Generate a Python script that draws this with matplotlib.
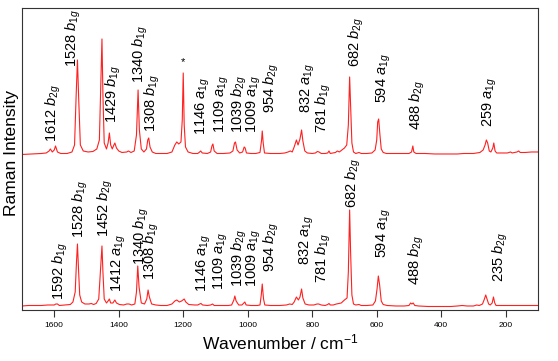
import matplotlib
matplotlib.use("Agg")
import matplotlib.pyplot as plt

plt.rcParams["font.family"] = ["Liberation Sans", "DejaVu Sans"]
plt.rcParams["mathtext.fontset"] = "custom"
plt.rcParams["mathtext.rm"] = "Liberation Sans"
plt.rcParams["mathtext.it"] = "Liberation Sans:italic"

# 上段スペクトル (wavenumber, intensity)
top_trace = [
    (1700, 0.5), (1680, 0.8), (1660, 1), (1640, 1.5), (1625, 2), (1616, 4), (1612, 6),
    (1606, 3), (1600, 5), (1596, 9), (1590, 3), (1580, 1.5), (1560, 1.5), (1545, 3),
    (1537, 10), (1532, 60), (1528, 95), (1524, 55), (1519, 10), (1510, 4), (1495, 3),
    (1480, 3.5), (1468, 6), (1460, 15), (1455, 80), (1452, 116), (1449, 60), (1445, 12),
    (1438, 6), (1433, 12), (1429, 22), (1425, 10), (1420, 6), (1415, 10), (1412, 12),
    (1407, 7), (1400, 4), (1390, 2.5), (1375, 3), (1370, 4), (1362, 2.5), (1352, 4),
    (1345, 20), (1340, 65), (1336, 25), (1330, 6), (1322, 3), (1314, 6), (1310, 15),
    (1307, 17), (1303, 8), (1296, 3), (1285, 1.5), (1270, 1.5), (1250, 1.5), (1235, 3),
    (1226, 10), (1220, 13), (1214, 11), (1207, 13), (1203, 35), (1200, 82), (1197, 30),
    (1193, 8), (1185, 3), (1170, 1.5), (1155, 1.5), (1149, 3), (1146, 4), (1141, 2),
    (1125, 1.5), (1115, 3), (1111, 9), (1108, 11), (1104, 4), (1095, 1.5), (1075, 1.5),
    (1055, 2), (1046, 4), (1041, 12), (1038, 13), (1033, 5), (1025, 2), (1016, 3),
    (1011, 8), (1008, 7), (1004, 2), (990, 1.5), (975, 1.5), (962, 2.5), (957, 15),
    (955, 24), (952, 12), (948, 2), (930, 1.5), (900, 1.5), (885, 2), (875, 3), (868, 4),
    (862, 3), (856, 8), (849, 15), (844, 10), (838, 16), (833, 25), (829, 14), (823, 4),
    (815, 2), (800, 1.5), (790, 2), (784, 3.5), (779, 3), (772, 1.5), (760, 1.5),
    (752, 2), (748, 4), (744, 1.5), (735, 2), (728, 2.5), (722, 4), (716, 3), (708, 5),
    (700, 7), (693, 10), (688, 30), (684, 78), (681, 50), (677, 12), (672, 3), (665, 1.5),
    (655, 2.5), (648, 1.5), (630, 1.5), (615, 2), (605, 5), (600, 15), (597, 33),
    (594, 36), (590, 20), (586, 6), (580, 2.5), (570, 1.5), (550, 1.5), (520, 1.5),
    (500, 1.5), (492, 3), (488, 9), (485, 3), (478, 1.5), (450, 1.5), (420, 1), (400, 1),
    (380, 1), (350, 1), (330, 1.5), (300, 1.5), (280, 2.5), (270, 5), (264, 10),
    (260, 15), (256, 12), (251, 4), (246, 3), (240, 7), (237, 12), (233, 4), (228, 2),
    (210, 2), (195, 2), (185, 3), (180, 2), (165, 3), (160, 4), (155, 2.5), (140, 2.5),
    (120, 3), (100, 3),
]

# 下段スペクトル
bottom_trace = [
    (1700, 1), (1680, 1.5), (1660, 1.5), (1640, 1.5), (1620, 2), (1600, 2), (1595, 3),
    (1590, 3), (1584, 1.5), (1565, 2), (1550, 2.5), (1542, 5), (1535, 15), (1531, 45),
    (1528, 63), (1525, 40), (1521, 12), (1515, 5), (1505, 3), (1492, 3), (1485, 3.5),
    (1478, 2.5), (1470, 3.5), (1462, 8), (1456, 40), (1452, 61), (1449, 35), (1445, 8),
    (1438, 4), (1433, 6), (1429, 8), (1425, 4), (1418, 4), (1412, 7), (1407, 4),
    (1398, 2.5), (1385, 2), (1375, 3), (1368, 3), (1360, 2), (1350, 3), (1345, 15),
    (1341, 41), (1337, 20), (1330, 4), (1320, 3), (1313, 8), (1309, 17), (1305, 10),
    (1298, 3), (1285, 2), (1270, 1.5), (1250, 1.5), (1235, 3), (1226, 6), (1220, 7),
    (1212, 5), (1205, 6), (1197, 8), (1192, 5), (1183, 2.5), (1165, 2), (1155, 2),
    (1149, 3), (1145, 3.5), (1140, 2), (1125, 1.5), (1115, 2), (1109, 3), (1104, 1.5),
    (1085, 1.5), (1060, 1.5), (1050, 2), (1043, 7), (1040, 11), (1036, 6), (1028, 2),
    (1018, 2), (1012, 4), (1009, 5), (1005, 2), (990, 1.5), (970, 1.5), (962, 2),
    (958, 12), (955, 23), (951, 8), (947, 2), (930, 1.5), (900, 1.5), (880, 2), (870, 3),
    (862, 2.5), (856, 5), (849, 10), (843, 7), (838, 10), (833, 18), (829, 9), (822, 3),
    (810, 2), (795, 2), (785, 3), (780, 3), (772, 2), (760, 1.5), (752, 2.5), (748, 3.5),
    (744, 2), (735, 2), (725, 3), (718, 3.5), (710, 4), (700, 7), (692, 9), (688, 35),
    (684, 97), (681, 55), (677, 12), (672, 3), (665, 2), (655, 2.5), (648, 1.5),
    (630, 1.5), (612, 2), (604, 6), (599, 18), (595, 31), (591, 22), (586, 6), (580, 2.5),
    (568, 1.5), (540, 1), (515, 1), (500, 1.5), (495, 4), (491, 3), (487, 4), (482, 1.5),
    (470, 1), (440, 0.5), (400, 0.5), (370, 0.5), (350, 1), (335, 1.5), (320, 1),
    (300, 1), (290, 2), (282, 1.5), (272, 3), (266, 8), (262, 12), (258, 8), (253, 3),
    (248, 2), (242, 4), (238, 10), (234, 4), (230, 1.5), (210, 1.5), (180, 1.5),
    (150, 1.5), (120, 1.5), (100, 1.5),
]

# ピーク帰属ラベル
top_label_nums = ["1612", "1528", "1429", "1340", "1308", "1146", "1109", "1039",
                  "1009", "954", "832", "781", "682", "594", "488", "259"]
top_label_syms = ["b2g", "b1g", "b1g", "b1g", "b1g", "a1g", "a1g", "b2g",
                  "a1g", "b2g", "a1g", "b1g", "b2g", "a1g", "b2g", "a1g"]
bottom_label_nums = ["1592", "1528", "1452", "1412", "1340", "1308", "1146", "1109",
                     "1039", "1009", "954", "832", "781", "682", "594", "488", "235"]
bottom_label_syms = ["b1g", "b1g", "b2g", "a1g", "b1g", "b1g", "a1g", "a1g",
                     "b2g", "a1g", "b2g", "a1g", "b1g", "b2g", "a1g", "b2g", "b2g"]

# ラベル位置 (x: 波数, y: 文字の下端)
top_label_pos = [(1603, 168), (1541, 243), (1418, 187), (1332, 227), (1295, 178),
                 (1139, 175), (1081, 177), (1027, 177), (982, 177), (928, 197),
                 (813, 197), (764, 177), (664, 243), (578, 207), (473, 180), (249, 183)]
bottom_label_pos = [(1581, 10), (1519, 72), (1442, 73), (1399, 18), (1330, 45),
                    (1298, 30), (1136, 18), (1083, 20), (1025, 23), (982, 23),
                    (928, 38), (817, 45), (764, 27), (671, 102), (578, 52), (478, 25),
                    (218, 28)]

TOP_OFFSET = 155
BOTTOM_OFFSET = 3


def label_text(num, sym):
    return num + r" $\mathit{%s}_{\mathit{%s}}$" % (sym[0], sym[1:])


fig = plt.figure(figsize=(5.58, 3.61), dpi=100)
ax = fig.add_axes([0.0394, 0.1413, 0.9247, 0.8366])

top_wn, top_int = zip(*top_trace)
bot_wn, bot_int = zip(*bottom_trace)
ax.plot(top_wn, [v + TOP_OFFSET for v in top_int], color="#ff2020", lw=0.8)
ax.plot(bot_wn, [v + BOTTOM_OFFSET for v in bot_int], color="#ff2020", lw=0.8)

for num, sym, (x, y) in zip(top_label_nums, top_label_syms, top_label_pos):
    ax.text(x, y, label_text(num, sym), rotation=90, ha="center", va="bottom",
            fontsize=10.5)
for num, sym, (x, y) in zip(bottom_label_nums, bottom_label_syms, bottom_label_pos):
    ax.text(x, y, label_text(num, sym), rotation=90, ha="center", va="bottom",
            fontsize=10.5)

# 1200 cm-1 付近の * (溶媒ピーク)
ax.text(1200, 248, "*", ha="center", va="center", fontsize=8)

ax.set_xlim(1700, 100)
ax.set_ylim(0, 302)
ax.set_yticks([])
ax.set_xticks([1600, 1400, 1200, 1000, 800, 600, 400, 200])
ax.tick_params(axis="x", direction="out", length=5, width=0.8, labelsize=6, pad=4,
               color="#333333")
for sp in ax.spines.values():
    sp.set_color("#333333")
    sp.set_linewidth(0.8)

ax.set_xlabel(r"Wavenumber / cm$^{-1}$", fontsize=12.5, labelpad=2)
ax.set_ylabel("Raman Intensity", fontsize=12.5)
ax.yaxis.set_label_coords(-0.006, 0.52)

fig.savefig("out.png", dpi=100)
